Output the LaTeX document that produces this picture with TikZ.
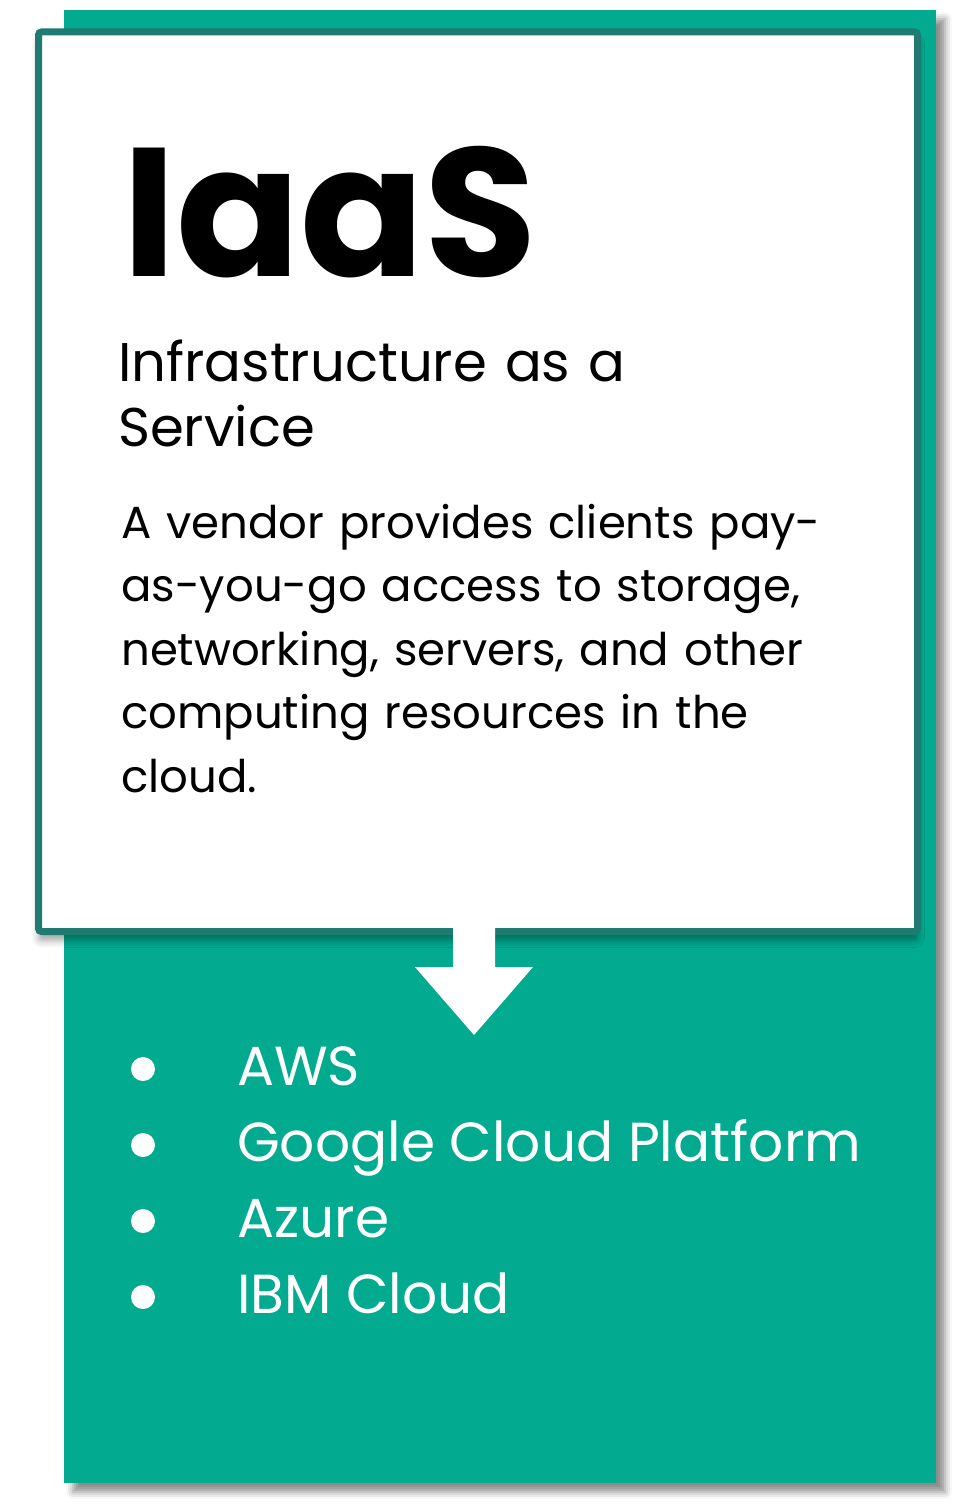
\documentclass[tikz,border=0pt]{standalone}
\usepackage{fontspec}
\setmainfont{Poppins}
\usetikzlibrary{positioning,shadows.blur}
\definecolor{iaasgreen}{RGB}{2,171,143}
\definecolor{iaasteal}{RGB}{31,123,114}

\begin{document}
\begin{tikzpicture}[x=1pt,y=-1pt]
    \tikzset{panel/.style={rectangle,fill=iaasgreen,inner sep=0pt,
        blur shadow={shadow xshift=9pt,shadow yshift=-9pt,shadow blur radius=7pt,shadow opacity=45}}}
    \tikzset{card/.style={rectangle,draw=iaasteal,line width=7pt,fill=white,rounded corners=3pt,inner sep=0pt,
        blur shadow={shadow xshift=0pt,shadow yshift=-9pt,shadow blur radius=7pt,shadow opacity=35}}}
    \tikzset{textline/.style={anchor=base west,inner sep=0pt,align=left,text width=820pt}}
    \tikzset{item/.style={anchor=base west,inner sep=0pt,text=white,font=\fontsize{55}{66}\selectfont}}
    \useasboundingbox (0,0) rectangle (967,1512);
    \node[panel,minimum width=872pt,minimum height=1473pt] (panel) at (500,746.5) {};
    \node[card,minimum width=879pt,minimum height=899.5pt] (card) at (478,481.75) {};
    % title and description
    \node[textline,font=\fontsize{183}{183}\selectfont\bfseries] (title) at (122,276) {IaaS};
    \node[textline,font=\fontsize{54.5}{65}\selectfont] (subtitle) at (118,381) {Infrastructure as a\\Service};
    \node[textline,font=\fontsize{45}{63.5}\selectfont] (desc) at (121,538)
    {A vendor provides clients pay-\\as-you-go access to storage,\\networking, servers, and other\\computing resources in the\\cloud.};
    % arrow down to the list
    \coordinate (tip) at (474,1035);
    \fill[white] (453,925) -- (495,925) -- (495,967) -- (533,967) -- (tip) -- (415,967) -- (453,967) -- cycle;
    % providers
    \foreach \name [count=\i from 0] in {AWS,Google Cloud Platform,Azure,IBM Cloud} {
        \fill[white] (143,1069+76*\i) circle (12);
        \node[item] (item\i) at (237,1085+76*\i) {\name};
    }
\end{tikzpicture}
\end{document}
